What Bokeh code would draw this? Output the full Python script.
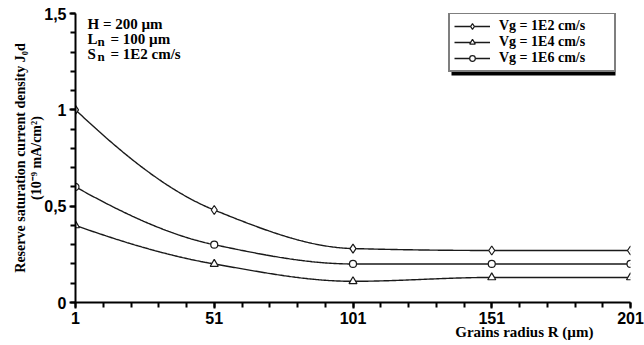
import numpy as np
from bokeh.plotting import figure
from bokeh.models import (Range1d, FixedTicker, CustomJSTickFormatter, Label,
                          Legend, LegendItem, BoxAnnotation, Title)
from bokeh.embed import file_html
from bokeh.resources import INLINE

# ---------------- data ----------------
radius = [1, 51, 101, 151, 201]
j_vg_1e2 = [1.00, 0.48, 0.28, 0.27, 0.27]
j_vg_1e4 = [0.40, 0.20, 0.11, 0.13, 0.13]
j_vg_1e6 = [0.60, 0.30, 0.20, 0.20, 0.20]
series_labels = ["Vg = 1E2 cm/s", "Vg = 1E4 cm/s", "Vg = 1E6 cm/s"]
x_ticks = [1, 51, 101, 151, 201]
y_ticks = [0, 0.5, 1, 1.5]

# ---------------- layout ----------------
W, H = 644, 345
FL, FR, FT, FB = 75, 630, 13, 302   # frame edges in px
X0, X1, Y0, Y1 = 1, 201, 0, 1.5


def sx(px):
    return X0 + (px - FL) * (X1 - X0) / (FR - FL)


def sy(py):
    return Y0 + (FB - py) * (Y1 - Y0) / (FB - FT)


def pchip(x, y, xs):
    x = np.asarray(x, float)
    y = np.asarray(y, float)
    h = np.diff(x)
    d = np.diff(y) / h
    n = len(x)
    m = np.zeros(n)
    for k in range(1, n - 1):
        if d[k - 1] * d[k] <= 0:
            m[k] = 0.0
        else:
            w1 = 2 * h[k] + h[k - 1]
            w2 = h[k] + 2 * h[k - 1]
            m[k] = (w1 + w2) / (w1 / d[k - 1] + w2 / d[k])

    def endslope(h0, h1, d0, d1):
        s = ((2 * h0 + h1) * d0 - h0 * d1) / (h0 + h1)
        if np.sign(s) != np.sign(d0):
            s = 0.0
        elif np.sign(d0) != np.sign(d1) and abs(s) > abs(3 * d0):
            s = 3 * d0
        return s

    m[0] = endslope(h[0], h[1], d[0], d[1])
    m[-1] = endslope(h[-1], h[-2], d[-1], d[-2])
    out = np.empty_like(xs)
    for i, xv in enumerate(xs):
        k = min(max(np.searchsorted(x, xv) - 1, 0), n - 2)
        t = (xv - x[k]) / h[k]
        h00 = 2 * t**3 - 3 * t**2 + 1
        h10 = t**3 - 2 * t**2 + t
        h01 = -2 * t**3 + 3 * t**2
        h11 = t**3 - t**2
        out[i] = h00 * y[k] + h10 * h[k] * m[k] + h01 * y[k + 1] + h11 * h[k] * m[k + 1]
    return out


p = figure(width=W, height=H, output_backend="svg", toolbar_location=None,
           x_range=Range1d(X0, X1), y_range=Range1d(Y0, Y1),
           min_border_left=FL, min_border_right=W - FR,
           min_border_top=FT, min_border_bottom=H - FB)
p.outline_line_color = None
p.grid.visible = False
p.background_fill_color = "white"
p.border_fill_color = "white"

# axes
p.xaxis.ticker = FixedTicker(ticks=x_ticks, minor_ticks=list(range(1, 202, 10)))
p.yaxis.ticker = FixedTicker(ticks=y_ticks, minor_ticks=[i / 10 for i in range(0, 16)])
p.yaxis.formatter = CustomJSTickFormatter(code="return String(tick).replace('.', ',');")
for ax in (p.xaxis[0], p.yaxis[0]):
    ax.axis_line_width = 2
    ax.axis_line_color = "black"
    ax.major_tick_line_width = 2
    ax.minor_tick_line_width = 2
    ax.major_tick_line_color = "black"
    ax.minor_tick_line_color = "black"
    ax.major_tick_in = 0
    ax.minor_tick_in = 0
    ax.major_tick_out = 6
    ax.minor_tick_out = 5
    ax.major_label_text_font = "Liberation Sans"
    ax.major_label_text_font_style = "bold"
    ax.major_label_text_font_size = "16px"
    ax.major_label_text_color = "black"
    ax.major_label_standoff = 3

# curves
xs = np.linspace(X0, X1, 400)
line_kw = dict(line_color="#1a1a1a", line_width=1.4)
mk_kw = dict(fill_color="white", line_color="#1a1a1a", line_width=1.2)

series = [j_vg_1e2, j_vg_1e4, j_vg_1e6]
markers = ["diamond", "triangle", "circle"]
sizes = [9, 8, 7]
items = []
for vals, mk, sz, lab in zip(series, markers, sizes, series_labels):
    r_line = p.line(xs, pchip(radius, vals, xs), **line_kw)
    r_mk = p.scatter(radius, vals, marker=mk, size=sz, **mk_kw)
    items.append(LegendItem(label=lab, renderers=[r_line, r_mk]))

# legend shadow
shadow = BoxAnnotation(left=sx(451), right=sx(615), top=sy(18), bottom=sy(75),
                       fill_color="black", fill_alpha=1.0, line_color=None)
p.add_layout(shadow)

legend = Legend(items=items, location=(448 - FL, FB - 72),
                label_text_font="Liberation Serif", label_text_font_style="bold",
                label_text_font_size="14px", label_text_color="black",
                label_height=14, glyph_height=14, glyph_width=36,
                label_standoff=9, label_width=111, spacing=0, padding=4, margin=0,
                border_line_color="black", border_line_width=2,
                background_fill_color="white", background_fill_alpha=1.0)
p.add_layout(legend, "center")

serif = "Liberation Serif"


def lab(text, px, py, size, align="left"):
    p.add_layout(Label(x=sx(px), y=sy(py), text=text, text_font=serif,
                       text_font_style="bold", text_font_size=f"{size}px",
                       text_color="black", text_align=align,
                       text_baseline="middle"))


# parameter annotation
lab("H = 200 \u00b5m", 87, 23, 15)
lab("L", 87, 38, 15)
lab("n", 97, 41, 13)
lab("= 100 \u00b5m", 110, 38, 15)
lab("S", 87, 53, 15)
lab("n", 97, 56, 13)
lab("= 1E2 cm/s", 110, 53, 15)

# axis titles (as side titles so they sit outside the frame)
p.add_layout(Title(text="(10\u207b\u2079 mA/cm\u00b2)", align="center",
                   text_font=serif, text_font_style="bold", text_font_size="14px",
                   text_color="black", standoff=-4), "left")
p.add_layout(Title(text="Reserve saturation current density J\u2080d", align="center",
                   text_font=serif, text_font_style="bold", text_font_size="14px",
                   text_color="black", standoff=1), "left")
p.add_layout(Title(text="Grains radius R (\u00b5m)", align="right", offset=37,
                   text_font=serif, text_font_style="bold", text_font_size="15px",
                   text_color="black", standoff=-10), "below")

open("out.html", "w").write(file_html(p, INLINE))
